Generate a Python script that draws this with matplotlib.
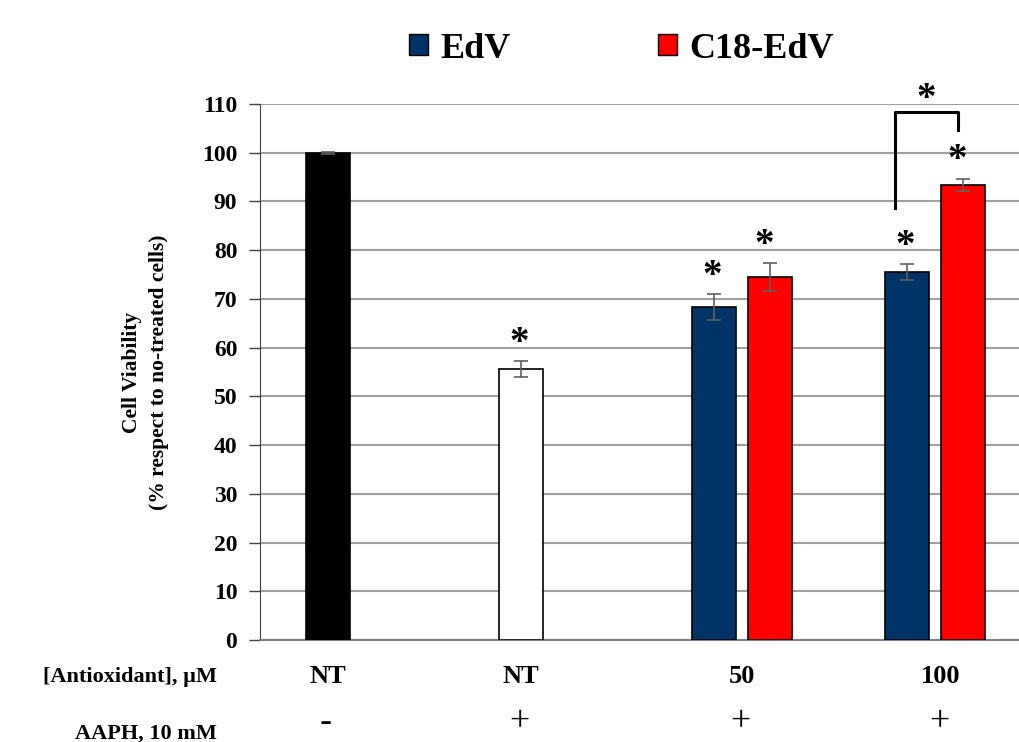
import matplotlib
matplotlib.use("Agg")
import matplotlib.pyplot as plt
from matplotlib.patches import Patch
import numpy as np

plt.rcParams['font.family'] = ['Liberation Serif', 'DejaVu Serif']
plt.rcParams['font.weight'] = 'bold'

# data
groups = ['NT', 'NT', '50', '100']
aaph = ['-', '+', '+', '+']
series_names = ['EdV', 'C18-EdV']

# left slot bars (control, AAPH only, EdV 50, EdV 100)
left_vals = [100.0, 55.6, 68.3, 75.5]
left_errs = [0.2, 1.7, 2.7, 1.6]
left_colors = ['#000000', '#ffffff', '#003366', '#003366']

# right slot bars (C18-EdV at 50 and 100)
right_groups = [2, 3]
right_vals = [74.5, 93.4]
right_errs = [2.8, 1.3]
right_colors = ['#ff0000', '#ff0000']

# which bars get a significance star
left_star = [False, True, True, True]
right_star = [True, True]

blue = '#003366'
red = '#ff0000'

fig = plt.figure(figsize=(10.19, 7.42), dpi=100)
ax = fig.add_axes([0.2547, 0.1375, 0.7453, 0.7224])

x = np.arange(len(groups))
w = 0.225
lpos = x + 0.355
rpos = np.array(right_groups) + 0.645

ax.bar(lpos, left_vals, width=w, color=left_colors, edgecolor='#000000', linewidth=1.2, zorder=3)
ax.bar(rpos, right_vals, width=w, color=right_colors, edgecolor='#000000', linewidth=1.2, zorder=3)
ax.errorbar(lpos, left_vals, yerr=left_errs, fmt='none', ecolor='#606060', elinewidth=1.2, capsize=5, capthick=1.2, zorder=4)
ax.errorbar(rpos, right_vals, yerr=right_errs, fmt='none', ecolor='#606060', elinewidth=1.2, capsize=5, capthick=1.2, zorder=4)

star_kw = dict(ha='center', va='center', fontsize=28, fontweight='bold', zorder=5)
for p, v, e, s in zip(lpos, left_vals, left_errs, left_star):
    if s:
        ax.text(p - 0.01, v + e + 3.6, '*', **star_kw)
for p, v, e, s in zip(rpos, right_vals, right_errs, right_star):
    if s:
        ax.text(p - 0.03, v + e + 3.6, '*', **star_kw)

# bracket between EdV and C18-EdV at 100 uM
bx1, bx2 = 3.293, 3.619
ax.plot([bx1, bx1, bx2, bx2], [88.7, 108.4, 108.4, 104.7], color='black', lw=2.2,
        solid_joinstyle='round', clip_on=False, zorder=5)
ax.text((bx1 + bx2) / 2, 111.0, '*', clip_on=False, **star_kw)

ax.set_ylim(0, 110)
ax.set_xlim(0, 3.935)
ax.set_yticks(np.arange(0, 111, 10))
ax.set_xticks([])
ax.yaxis.grid(True, color='#a0a0a0', lw=1.5, zorder=0)
ax.set_axisbelow(True)
for side in ['top', 'right']:
    ax.spines[side].set_visible(False)
ax.spines['left'].set_color('#404040')
ax.spines['bottom'].set_color('#808080')
ax.spines['bottom'].set_linewidth(1.5)
ax.tick_params(axis='y', direction='out', length=8, width=1, color='#404040', labelsize=17, pad=8)
for t in ax.get_yticklabels():
    t.set_fontweight('bold')

ax.set_ylabel('Cell Viability\n(% respect to no-treated cells)', fontsize=15.5, fontweight='bold',
              labelpad=24, linespacing=1.45)

# category rows under the axis
label_x = [lpos[0], lpos[1], (lpos[2] + rpos[0]) / 2, (lpos[3] + rpos[1]) / 2 + 0.03]
for lx, g, a in zip(label_x, groups, aaph):
    ax.text(lx, -7.5, g, ha='center', va='center', fontsize=19, fontweight='bold')
    ax.text(lx - 0.01, -17.0, a, ha='center', va='center', fontsize=26, fontweight='normal')
fig.text(0.213, 0.088, '[Antioxidant], µM', ha='right', va='center', fontsize=16, fontweight='bold')
fig.text(0.213, 0.012, 'AAPH, 10 mM', ha='right', va='center', fontsize=16, fontweight='bold')

handles = [Patch(facecolor=blue, edgecolor='black', lw=1), Patch(facecolor=red, edgecolor='black', lw=1)]
fig.legend(handles, series_names, loc='upper center', bbox_to_anchor=(0.61, 1.0), ncol=2,
           frameon=False, prop={'size': 26, 'weight': 'bold'}, handlelength=0.5, handleheight=0.5,
           handletextpad=0.35, columnspacing=4.1)

fig.savefig('out.png', dpi=100)
